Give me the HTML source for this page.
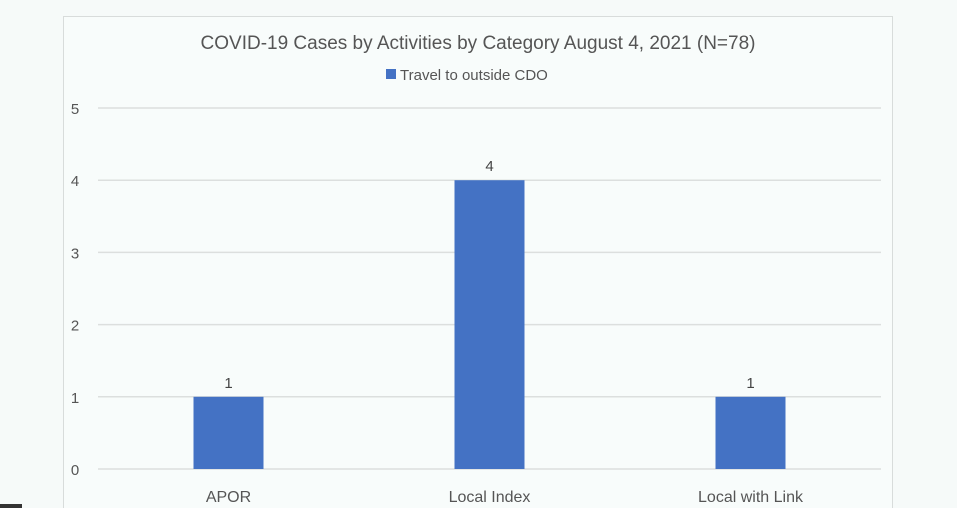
<!DOCTYPE html>
<html><head><meta charset="utf-8"><style>
html,body{margin:0;padding:0;background:#f6faf9;width:957px;height:508px;overflow:hidden}
svg{display:block;font-family:"Liberation Sans",Calibri,sans-serif}
</style></head><body>
<svg width="957" height="508">
<rect x="63.5" y="16.5" width="829" height="500" fill="#f8fcfb" stroke="#d8dcdb"/>
<rect x="0" y="504" width="22" height="4" fill="#333"/>
<text x="478" y="49" text-anchor="middle" font-size="19" fill="#555">COVID-19 Cases by Activities by Category August 4, 2021 (N=78)</text>
<g>
<rect x="386" y="69" width="10" height="10" fill="#4472c4"/>
<text x="400" y="80" font-size="15" fill="#555">Travel to outside CDO</text>
</g>
<g id="grid"></g><g id="bars"></g>
</svg>
<script>
const categories=["APOR","Local Index","Local with Link"];
const values=[1,4,1];
const ticks=[0,1,2,3,4,5];
const NS="http://www.w3.org/2000/svg";
const x0=98,x1=881,y0=469,yTop=108,maxV=5;
const y=v=>y0-(y0-yTop)*v/maxV;
const band=(x1-x0)/categories.length;
const cx=i=>x0+band*(i+0.5);
const grid=document.getElementById('grid'),bars=document.getElementById('bars');
function mk(t,a,p){const e=document.createElementNS(NS,t);for(const k in a)e.setAttribute(k,a[k]);p.appendChild(e);return e;}
ticks.forEach(t=>{
 const l=mk('line',{x1:x0,x2:x1,y1:y(t),y2:y(t),stroke:'#dcdfde','stroke-width':1.5},grid);
 
 
 const tx=mk('text',{x:75,y:y(t)+6,'text-anchor':'middle','font-size':15,fill:'#555'},grid);
 tx.textContent=t;
 
 
});
categories.forEach((c,i)=>{
 const w=70;
 const r=mk('rect',{x:cx(i)-w/2,y:y(values[i]),width:w,height:y0-y(values[i]),fill:'#4472c4'},bars);
 
 
 const v=mk('text',{x:cx(i),y:y(values[i])-9,'text-anchor':'middle','font-size':15,fill:'#444'},bars);
 v.textContent=values[i];
 
 
 const cl=mk('text',{x:cx(i),y:502,'text-anchor':'middle','font-size':16,fill:'#555'},bars);
 cl.textContent=c;
 
 
});
</script>
</body></html>
